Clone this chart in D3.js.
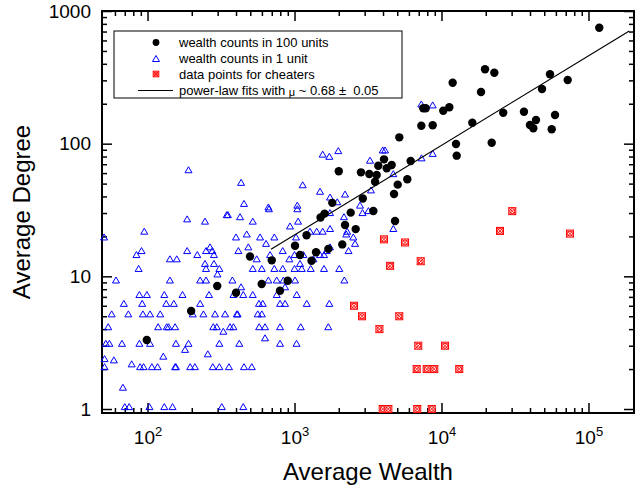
<!DOCTYPE html>
<html>
<head>
<meta charset="utf-8">
<script src="https://cdn.jsdelivr.net/npm/d3@7"></script>
<style>
  body { margin: 0; background: #fff; }
  svg { display: block; }
  text { font-family: Arial, "Liberation Sans", sans-serif; }
</style>
</head>
<body>
<svg id="chart" width="643" height="493"></svg>
<script>
// ---- data: [average wealth, average degree] ----
const hundredUnits = [
  [98.8, 3.31], [198, 5.48], [298, 8.46], [400, 7.53], [498, 14.1], [598, 8.75],
  [700, 13.2], [796, 7.79], [899, 9.27], [1008, 17.0], [1090, 14.5], [1207, 20.4],
  [1305, 13.1], [1401, 15.2], [1503, 27.8], [1600, 29.7], [1698, 16.1], [1807, 35.8],
  [2000, 61.9], [2113, 17.4], [2206, 24.4], [2411, 30.2], [2607, 22.7], [2831, 60.8],
  [2915, 38.6], [3227, 59.1], [3623, 58.0], [3715, 68.2], [4063, 76.2], [4240, 65.2],
  [4583, 69.0], [3531, 51.7], [3438, 31.1], [4753, 41.8], [5036, 49.1], [4830, 26.1],
  [5164, 111.6], [5852, 53.9], [6170, 74.0], [7290, 136.6], [8710, 137.5], [7516, 184.7],
  [7806, 184.7], [10280, 177.2], [11300, 188], [11910, 288], [12550, 99.4], [12690, 81.2],
  [16200, 143.9], [18570, 245], [19770, 363.5], [22870, 342.7], [21960, 101.7], [26300, 171.2],
  [36390, 174.1], [39970, 138.2], [42130, 130.6], [43950, 150.7], [48300, 258.2], [54720, 333.3],
  [56200, 128.3], [59200, 164.5], [72200, 301.9], [118400, 748]
];

const oneUnit = [
  [1555, 80], [1725, 77], [1985, 85], [190, 61], [433, 49], [1137, 47], [1491, 42], [2206, 40],
  [1744, 38], [453, 34], [664, 32], [670, 31], [1045, 33], [1045, 31], [346, 28], [352, 28],
  [426, 27], [186, 26], [246, 25], [520, 25], [1058, 25], [932, 23], [95, 21], [1744, 22],
  [50.6, 19], [400, 19], [473, 20], [583, 19], [729, 19], [640, 17], [485, 16], [266, 16],
  [276, 15], [283, 14], [84, 14], [91, 15], [186, 15], [218, 14], [250, 15], [142, 13],
  [158, 13], [415, 15], [553, 13], [682, 14], [831, 15], [922, 13], [1000, 14], [1090, 12],
  [1149, 14], [1344, 13], [1491, 14], [1587, 14], [1657, 15], [1744, 16],
  [87, 11], [142, 9], [246, 12], [250, 11], [283, 12], [299, 10], [308, 11],
  [520, 11], [599, 11], [729, 11], [831, 11], [1000, 11], [1120, 11], [1289, 11], [1587, 11], [2016, 11],
  [61, 9], [228, 9], [250, 9], [378, 9], [664, 9], [757, 9], [840, 9], [1008, 9], [2183, 9],
  [88, 7], [99, 7], [130, 7], [173, 7], [228, 6], [262, 7], [433, 8], [384, 7], [448, 7],
  [520, 7], [757, 7], [862, 8], [1035, 7],
  [57, 5], [69, 6], [74, 5], [92, 6], [93, 5], [104, 5], [122, 5], [134, 6], [151, 6],
  [203, 5], [240, 5], [288, 5], [337, 5], [405, 5], [410, 5], [562, 5], [599, 5], [573, 6],
  [608, 6], [797, 6], [862, 6], [1211, 6], [1725, 6],
  [54, 4], [118, 4], [135, 4], [139, 4], [154, 4], [280, 4], [296, 4], [328, 3.7], [364, 4],
  [384, 4], [575, 4], [630, 4], [797, 4], [1102, 4], [1697, 4],
  [52, 3], [55, 3], [67, 3], [88, 3], [104, 3], [156, 3], [180, 2.7], [190, 3], [308, 3],
  [421, 3], [630, 3.3], [797, 3], [1032, 3],
  [51, 2], [51, 2.3], [59, 2.25], [78, 2.1], [89, 2], [94, 2], [107, 2], [117, 2], [128, 2.4],
  [154, 2], [156, 2], [195, 2], [210, 2], [257, 2.5], [278, 2], [308, 2], [358, 2], [453, 2], [512, 2],
  [68, 1.4],
  [70, 1], [75, 1], [103, 1], [130, 1], [148, 1], [320, 1], [448, 1],
  [7290, 191], [8710, 188], [3980, 86], [4130, 86], [7310, 75], [8710, 81], [3263, 72],
  [1954, 35], [4700, 57], [3313, 43], [1024, 19], [1416, 21], [2280, 21], [2250, 20],
  [2510, 19], [2580, 17], [2790, 33], [2900, 29], [4700, 22], [2330, 15], [2170, 27],
  [1744, 29], [3180, 30], [1275, 21], [1555, 21]
];

const cheaters = [
  [30300, 31], [25000, 22], [74800, 21], [4060, 19], [5650, 18], [4470, 12], [7220, 13],
  [2540, 6], [2880, 5], [5160, 5], [3780, 4], [6950, 3], [10570, 3],
  [6780, 2], [7930, 2], [8930, 2], [13200, 2],
  [3980, 1], [4350, 1], [6840, 1], [8580, 1]
];

// power-law fit, slope ~0.68
const fitWealth = [692, 189500];
const fitDegree = [16.0, 707];

const xTickExps = [2, 3, 4, 5];
const yTickLabels = [1, 10, 100, 1000];
const legendLabels = [
  "wealth counts in 100 units",
  "wealth counts in 1 unit",
  "data points for cheaters"
];

// ---- layout ----
const plotLeft = 102, plotRight = 634, plotTop = 11, plotBottom = 413;
const xDomain = [49, 204000];
const yDomain = [0.933, 1000];

const svg = d3.select("#chart");
const x = d3.scaleLog().domain(xDomain).range([plotLeft, plotRight]);
const y = d3.scaleLog().domain(yDomain).range([plotBottom, plotTop]);

function minorTicks(scale, e0, e1)
{
  const [r0, r1] = d3.extent(scale.range());
  const out = [];
  for (let e = e0; e <= e1; e++)
  {
    for (let m = 2; m <= 9; m++)
    {
      const v = m * Math.pow(10, e);
      const p = scale(v);
      if (p > r0 + 1.5 && p < r1 - 1.5) out.push(v);
    }
  }
  return out;
}
const xMajor = xTickExps.map(e => Math.pow(10, e));
const xMinor = minorTicks(x, 1, 5);
const yMinor = minorTicks(y, 0, 2);

const noLabel = () => "";
const clean = g => { g.select(".domain").remove(); g.selectAll(".tick line").attr("stroke", "#000").attr("stroke-width", 1.5); };

// bottom axis with 10^n labels
const xAxisG = svg.append("g")
  .attr("transform", `translate(0,${ plotBottom })`)
  .call(d3.axisBottom(x).tickValues(xMajor).tickSize(-10).tickPadding(18))
  .call(clean);
xAxisG.selectAll(".tick text")
  .attr("fill", "#000")
  .style("font-size", "19px")
  .each(function (d)
  {
    const t = d3.select(this);
    t.text(null);
    t.append("tspan").text("10");
    t.append("tspan").attr("dy", -8).style("font-size", "13px").text(Math.round(Math.log10(d)));
  });
svg.append("g").attr("transform", `translate(0,${ plotBottom })`)
  .call(d3.axisBottom(x).tickValues(xMinor).tickSize(-5).tickFormat(noLabel)).call(clean);

// top axis
svg.append("g").attr("transform", `translate(0,${ plotTop })`)
  .call(d3.axisTop(x).tickValues(xMajor).tickSize(-10).tickFormat(noLabel)).call(clean);
svg.append("g").attr("transform", `translate(0,${ plotTop })`)
  .call(d3.axisTop(x).tickValues(xMinor).tickSize(-5).tickFormat(noLabel)).call(clean);

// left axis with labels
svg.append("g").attr("transform", `translate(${ plotLeft },0)`)
  .call(d3.axisLeft(y).tickValues(yTickLabels).tickSize(-10).tickPadding(11).tickFormat(d3.format("d")))
  .call(clean)
  .selectAll(".tick text").attr("fill", "#000").style("font-size", "19px");
svg.append("g").attr("transform", `translate(${ plotLeft },0)`)
  .call(d3.axisLeft(y).tickValues(yMinor).tickSize(-5).tickFormat(noLabel)).call(clean);

// right axis
svg.append("g").attr("transform", `translate(${ plotRight },0)`)
  .call(d3.axisRight(y).tickValues(yTickLabels).tickSize(-10).tickFormat(noLabel)).call(clean);
svg.append("g").attr("transform", `translate(${ plotRight },0)`)
  .call(d3.axisRight(y).tickValues(yMinor).tickSize(-5).tickFormat(noLabel)).call(clean);

// frame
svg.append("rect")
  .attr("x", plotLeft).attr("y", plotTop)
  .attr("width", plotRight - plotLeft).attr("height", plotBottom - plotTop)
  .attr("fill", "none").attr("stroke", "#000").attr("stroke-width", 2);

// axis titles
svg.append("text")
  .attr("x", (plotLeft + plotRight) / 2).attr("y", 480)
  .attr("text-anchor", "middle")
  .style("font-size", "24px")
  .text("Average Wealth");
svg.append("text")
  .attr("transform", `translate(30,${ (plotTop + plotBottom) / 2 }) rotate(-90)`)
  .attr("text-anchor", "middle")
  .style("font-size", "24px")
  .text("Average Degree");

// markers
const triPath = "M0,-5.4L3.5,0.6L-3.5,0.6Z";
function cheaterMark(g, s)
{
  const h = 3.5 * s;
  g.append("rect").attr("x", -h).attr("y", -h).attr("width", 2 * h).attr("height", 2 * h)
    .attr("fill", "#fff").attr("stroke", "#ff0000").attr("stroke-width", 1);
  g.append("circle").attr("r", 2.5 * s).attr("fill", "none").attr("stroke", "#ff0000").attr("stroke-width", 1);
  g.append("path").attr("d", `M${ -h },${ -h }L${ h },${ h }M${ h },${ -h }L${ -h },${ h }`)
    .attr("stroke", "#ff0000").attr("stroke-width", 0.9);
}

const plot = svg.append("g");

plot.append("g")
  .selectAll("path")
  .data(oneUnit)
  .enter()
  .append("path")
  .attr("d", triPath)
  .attr("transform", d => `translate(${ x(d[0]) },${ y(d[1]) })`)
  .attr("fill", "none")
  .attr("stroke", "#0000ff")
  .attr("stroke-width", 1);

plot.append("path")
  .datum(d3.zip(fitWealth, fitDegree))
  .attr("d", d3.line().x(d => x(d[0])).y(d => y(d[1])))
  .attr("fill", "none")
  .attr("stroke", "#000")
  .attr("stroke-width", 1.2);

plot.append("g")
  .selectAll("circle")
  .data(hundredUnits)
  .enter()
  .append("circle")
  .attr("cx", d => x(d[0]))
  .attr("cy", d => y(d[1]))
  .attr("r", 4.2)
  .attr("fill", "#000");

plot.append("g")
  .selectAll("g")
  .data(cheaters)
  .enter()
  .append("g")
  .attr("transform", d => `translate(${ x(d[0]) },${ y(d[1]) })`)
  .each(function () { cheaterMark(d3.select(this), 1); });

// legend
const legend = svg.append("g");
legend.append("rect")
  .attr("x", 114).attr("y", 31).attr("width", 288).attr("height", 67)
  .attr("fill", "#fff").attr("stroke", "#000").attr("stroke-width", 1);

const rowY = [42.5, 58.5, 74, 90.5];
const symX = 156, textX = 179;
legend.append("circle").attr("cx", symX).attr("cy", rowY[0]).attr("r", 3.4).attr("fill", "#000");
legend.append("path").attr("d", triPath)
  .attr("transform", `translate(${ symX },${ rowY[1] + 2.4 })`)
  .attr("fill", "none").attr("stroke", "#0000ff").attr("stroke-width", 1);
cheaterMark(legend.append("g").attr("transform", `translate(${ symX },${ rowY[2] })`), 0.8);
legend.append("line")
  .attr("x1", 138).attr("x2", 173).attr("y1", rowY[3]).attr("y2", rowY[3])
  .attr("stroke", "#000").attr("stroke-width", 1.2);

legendLabels.forEach((t, i) =>
{
  legend.append("text")
    .attr("x", textX).attr("y", rowY[i] + 4.6)
    .style("font-size", "13px")
    .text(t);
});
const fitText = legend.append("text")
  .attr("x", textX).attr("y", rowY[3] + 4.6)
  .attr("xml:space", "preserve")
  .style("white-space", "pre")
  .style("font-size", "13px");
fitText.append("tspan").text("power-law fits with ");
fitText.append("tspan").style("font-size", "11px").attr("dy", 1).text("\u03bc");
fitText.append("tspan").attr("dy", -1).text(" ~ 0.68 \u00b1  0.05");
</script>
</body>
</html>
